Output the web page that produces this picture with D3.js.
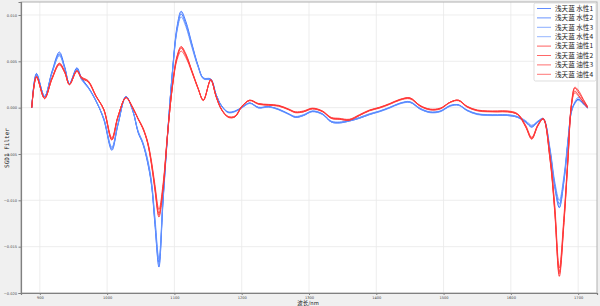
<!DOCTYPE html>
<html>
<head>
<meta charset="utf-8">
<script src="https://cdn.jsdelivr.net/npm/d3@7"></script>
<style>
  body { margin: 0; background: #f0f0f0; }
</style>
</head>
<body>
<div id="chart"></div>
<script>
// wavelength grid (nm), shared by all series
const wavelengths = [
  888, 895, 907, 918, 929, 937, 944, 955, 962, 972,
  983, 995, 1007, 1016, 1028, 1038, 1046, 1053, 1060, 1066,
  1071, 1077, 1083, 1090, 1097, 1104, 1110, 1117, 1126, 1135,
  1143, 1154, 1162, 1170, 1180, 1190, 1200, 1212, 1225, 1240,
  1255, 1270, 1280, 1292, 1305, 1320, 1333, 1345, 1360, 1375,
  1390, 1405, 1420, 1435, 1450, 1465, 1480, 1495, 1510, 1522,
  1535, 1550, 1565, 1580, 1595, 1610, 1622, 1631, 1640, 1648,
  1658, 1665, 1672, 1679, 1685, 1690, 1695, 1700, 1707, 1714
];

// series values, in units of 1e-3
const water1 = [
  0.0, 3.7, 1.2, 3.9, 6.0, 4.4, 2.6, 4.3, 3.2, 2.2,
  0.8, -1.3, -4.6, -1.9, 1.2, -0.3, -2.7, -3.9, -5.9, -8.4,
  -12.6, -17.2, -10.3, -2.8, 3.9, 8.8, 10.4, 9.3, 6.9, 4.6,
  3.2, 3.1, 1.4, 0.2, -0.5, -0.4, 0.0, 0.5, 0.0, 0.1,
  -0.2, -0.7, -1.05, -0.85, -0.4, -0.7, -1.55, -1.65, -1.45, -1.15,
  -0.75, -0.4, 0.0, 0.45, 0.6, -0.15, -0.5, -0.4, 0.2, 0.3,
  -0.3, -0.7, -0.8, -0.85, -0.85, -1.05, -1.55, -2.1, -1.55, -1.25,
  -4.7, -8.5, -10.8, -7.9, -3.6, -0.4, 0.5, 0.9, 0.5, 0.0
];
const water2 = [
  0.0, 3.6, 1.2, 3.8, 5.8, 4.3, 2.6, 4.2, 3.1, 2.2,
  0.8, -1.2, -4.4, -1.8, 1.2, -0.3, -2.6, -3.8, -5.7, -8.2,
  -12.2, -16.7, -10.0, -2.7, 3.8, 8.5, 10.1, 9.0, 6.7, 4.5,
  3.15, 3.0, 1.4, 0.2, -0.5, -0.4, 0.0, 0.5, 0.0, 0.1,
  -0.2, -0.7, -1.0, -0.8, -0.4, -0.7, -1.5, -1.6, -1.4, -1.1,
  -0.7, -0.4, 0.0, 0.45, 0.6, -0.1, -0.5, -0.4, 0.2, 0.3,
  -0.3, -0.7, -0.8, -0.8, -0.8, -1.0, -1.5, -2.0, -1.5, -1.2,
  -4.5, -8.2, -10.4, -7.6, -3.5, -0.4, 0.5, 0.9, 0.5, 0.0
];
const water3 = [
  0.0, 3.5, 1.25, 3.7, 5.6, 4.2, 2.6, 4.1, 3.0, 2.1,
  0.75, -1.15, -4.25, -1.75, 1.15, -0.25, -2.5, -3.7, -5.5, -7.95,
  -11.8, -16.3, -9.7, -2.6, 3.7, 8.3, 9.8, 8.75, 6.5, 4.4,
  3.1, 2.95, 1.35, 0.2, -0.45, -0.35, 0.05, 0.5, 0.05, 0.1,
  -0.15, -0.65, -0.95, -0.75, -0.35, -0.65, -1.45, -1.55, -1.35, -1.05,
  -0.65, -0.35, 0.05, 0.5, 0.65, -0.05, -0.45, -0.35, 0.25, 0.3,
  -0.25, -0.65, -0.75, -0.75, -0.75, -0.95, -1.4, -1.9, -1.45, -1.15,
  -4.3, -7.9, -10.0, -7.3, -3.3, -0.3, 0.6, 1.1, 0.7, 0.1
];
const water4 = [
  0.0, 3.55, 1.15, 3.75, 5.7, 4.25, 2.55, 4.15, 3.05, 2.15,
  0.8, -1.2, -4.5, -1.85, 1.2, -0.3, -2.6, -3.85, -5.8, -8.3,
  -12.4, -17.0, -10.1, -2.7, 3.8, 8.6, 10.3, 9.1, 6.8, 4.5,
  3.2, 3.05, 1.4, 0.15, -0.55, -0.45, -0.05, 0.45, -0.05, 0.05,
  -0.25, -0.75, -1.05, -0.85, -0.45, -0.75, -1.55, -1.65, -1.45, -1.15,
  -0.75, -0.45, -0.05, 0.4, 0.55, -0.15, -0.55, -0.45, 0.15, 0.25,
  -0.35, -0.75, -0.85, -0.85, -0.85, -1.05, -1.6, -2.1, -1.6, -1.25,
  -4.6, -8.4, -10.7, -7.8, -3.6, -0.5, 0.4, 0.8, 0.4, -0.1
];
const oil1 = [
  0.0, 3.4, 1.0, 3.2, 4.8, 3.9, 2.5, 4.0, 3.3, 2.9,
  1.35, -0.2, -3.5, -1.05, 1.1, 0.0, -1.25, -2.25, -3.8, -6.2,
  -8.9, -11.8, -8.9, -2.8, 2.4, 5.6, 6.6, 5.8, 4.0, 2.15,
  0.8, 3.05, 1.2, -0.2, -1.05, -1.0, 0.1, 0.8, 0.4, 0.3,
  0.2, -0.2, -0.5, -0.45, -0.1, -0.4, -1.15, -1.25, -1.35, -0.85,
  -0.3, 0.0, 0.4, 0.85, 1.05, 0.2, -0.2, -0.1, 0.6, 0.8,
  0.1, -0.3, -0.4, -0.45, -0.45, -0.75, -2.1, -3.4, -2.0, -1.25,
  -5.5, -11.1, -18.2, -12.4, -5.5, 0.3, 2.1, 1.7, 0.9, 0.1
];
const oil2 = [
  0.0, 3.3, 1.0, 3.1, 4.7, 3.8, 2.5, 3.95, 3.2, 2.8,
  1.3, -0.2, -3.4, -1.0, 1.1, 0.0, -1.2, -2.2, -3.7, -6.0,
  -8.6, -11.4, -8.6, -2.7, 2.3, 5.4, 6.4, 5.6, 3.9, 2.1,
  0.8, 3.0, 1.2, -0.2, -1.0, -0.95, 0.1, 0.8, 0.4, 0.3,
  0.2, -0.2, -0.5, -0.4, -0.1, -0.4, -1.1, -1.2, -1.3, -0.8,
  -0.3, 0.0, 0.4, 0.85, 1.0, 0.2, -0.2, -0.1, 0.6, 0.8,
  0.1, -0.3, -0.4, -0.4, -0.4, -0.7, -2.0, -3.3, -1.9, -1.2,
  -5.3, -10.7, -17.7, -12.0, -5.3, 0.3, 1.8, 1.4, 0.7, 0.0
];
const oil3 = [
  0.0, 3.25, 1.05, 3.05, 4.6, 3.75, 2.5, 3.9, 3.15, 2.75,
  1.25, -0.15, -3.25, -0.95, 1.05, 0.05, -1.15, -2.1, -3.6, -5.8,
  -8.3, -11.0, -8.3, -2.6, 2.2, 5.2, 6.1, 5.4, 3.8, 2.05,
  0.85, 2.95, 1.2, -0.15, -0.95, -0.9, 0.15, 0.8, 0.45, 0.35,
  0.25, -0.15, -0.45, -0.35, -0.05, -0.35, -1.05, -1.15, -1.25, -0.75,
  -0.25, 0.05, 0.45, 0.9, 1.05, 0.25, -0.15, -0.05, 0.6, 0.8,
  0.15, -0.25, -0.35, -0.35, -0.35, -0.65, -1.9, -3.2, -1.85, -1.15,
  -5.1, -10.3, -17.3, -11.6, -5.0, 0.4, 2.2, 1.9, 1.0, 0.1
];
const oil4 = [
  0.0, 3.35, 0.95, 3.15, 4.75, 3.85, 2.45, 3.95, 3.25, 2.85,
  1.3, -0.25, -3.45, -1.0, 1.1, -0.05, -1.2, -2.2, -3.75, -6.1,
  -8.7, -11.6, -8.7, -2.7, 2.3, 5.5, 6.5, 5.7, 3.9, 2.1,
  0.75, 3.0, 1.15, -0.25, -1.0, -1.0, 0.05, 0.75, 0.35, 0.25,
  0.15, -0.25, -0.55, -0.45, -0.15, -0.45, -1.15, -1.25, -1.35, -0.85,
  -0.35, -0.05, 0.35, 0.8, 0.95, 0.15, -0.25, -0.15, 0.55, 0.75,
  0.05, -0.35, -0.45, -0.45, -0.45, -0.75, -2.05, -3.35, -1.95, -1.2,
  -5.4, -10.9, -17.9, -12.2, -5.4, 0.2, 1.6, 1.3, 0.6, -0.05
];

const seriesNames = [
  "浅天蓝 水性1", "浅天蓝 水性2", "浅天蓝 水性3", "浅天蓝 水性4",
  "浅天蓝 油性1", "浅天蓝 油性2", "浅天蓝 油性3", "浅天蓝 油性4"
];
const seriesValues = [water1, water2, water3, water4, oil1, oil2, oil3, oil4];
const seriesColors = [
  "#1f5cff", "#2a66ff", "#5a8cff", "#6a98ff",
  "#ff1a1a", "#ff2626", "#ff3333", "#ff3d3d"
];

const xTicks = [900, 1000, 1100, 1200, 1300, 1400, 1500, 1600, 1700];
const yTicks = [-0.020, -0.015, -0.010, -0.005, 0.000, 0.005, 0.010];

const width = 600, height = 306;
const plot = { left: 21, top: 2, right: 597, bottom: 293 };

const svg = d3.create("svg")
    .attr("width", width)
    .attr("height", height)
    .style("display", "block")
    .style("background", "#f0f0f0");

const x = d3.scaleLinear().domain([872, 1728]).range([plot.left, plot.right]);
const y = d3.scaleLinear().domain([-0.020, 0.0114]).range([plot.bottom, plot.top]);

// plot background
svg.append("rect")
    .attr("x", plot.left)
    .attr("y", plot.top)
    .attr("width", plot.right - plot.left)
    .attr("height", plot.bottom - plot.top)
    .attr("fill", "#fff");

// grid
const grid = svg.append("g").attr("stroke", "#e8e8e8").attr("stroke-width", 0.8);
grid.selectAll(".gx").data(xTicks).join("line")
    .attr("x1", d => x(d)).attr("x2", d => x(d))
    .attr("y1", plot.top).attr("y2", plot.bottom);
grid.selectAll(".gy").data(yTicks).join("line")
    .attr("x1", plot.left).attr("x2", plot.right)
    .attr("y1", d => y(d)).attr("y2", d => y(d));

// lines
const line = d3.line()
    .x((d, i) => x(wavelengths[i]))
    .y(d => y(d / 1000))
    .curve(d3.curveCatmullRom.alpha(0.5));

const lines = svg.append("g").attr("fill", "none");
seriesValues.forEach((vals, k) => {
    lines.append("path")
        .attr("d", line(vals))
        .attr("stroke", seriesColors[k])
        .attr("stroke-width", 1)
        .attr("stroke-opacity", 0.85);
});

// frame
svg.append("rect")
    .attr("x", plot.left)
    .attr("y", plot.top)
    .attr("width", plot.right - plot.left)
    .attr("height", plot.bottom - plot.top)
    .attr("fill", "none")
    .attr("stroke", "#b0b0b0")
    .attr("stroke-width", 1);

// axes
const fmtY = d => d3.format(".3f")(d).replace("-", "\u2212");
const xAxis = svg.append("g")
    .attr("transform", `translate(0,${plot.bottom})`)
    .call(d3.axisBottom(x).tickValues(xTicks).tickSize(2).tickPadding(1).tickFormat(d3.format("d")));
const yAxis = svg.append("g")
    .attr("transform", `translate(${plot.left},0)`)
    .call(d3.axisLeft(y).tickValues(yTicks).tickSize(2.5).tickPadding(1.5).tickFormat(fmtY));

[xAxis, yAxis].forEach(a => {
    a.select(".domain").attr("stroke", "#808080").attr("stroke-width", 1.2);
    a.selectAll(".tick line").attr("stroke", "#808080");
    a.selectAll(".tick text")
        .attr("fill", "#444")
        .style("font-family", "DejaVu Sans")
        .style("font-size", "3.6px");
});

// axis labels
svg.append("text")
    .attr("x", 308)
    .attr("y", 305)
    .attr("text-anchor", "middle")
    .style("font-family", "Noto Sans CJK SC")
    .style("font-size", "5.5px")
    .attr("fill", "#222")
    .text("波长/nm");

svg.append("text")
    .attr("transform", "rotate(-90)")
    .attr("x", -148)
    .attr("y", 9)
    .attr("text-anchor", "middle")
    .style("font-family", "DejaVu Sans Mono")
    .style("font-size", "6px")
    .attr("fill", "#222")
    .text("SGD1 Filter");

// legend
const legend = svg.append("g");
legend.append("rect")
    .attr("x", 534)
    .attr("y", 3)
    .attr("width", 62)
    .attr("height", 78)
    .attr("rx", 1.5)
    .attr("fill", "#fff")
    .attr("fill-opacity", 0.85)
    .attr("stroke", "#d0d0d0")
    .attr("stroke-width", 0.7);

seriesNames.forEach((name, k) => {
    const ly = 8.5 + k * 9.4;
    legend.append("line")
        .attr("x1", 537).attr("x2", 551)
        .attr("y1", ly).attr("y2", ly)
        .attr("stroke", seriesColors[k])
        .attr("stroke-opacity", 0.7)
        .attr("stroke-width", 1);
    legend.append("text")
        .attr("x", 555)
        .attr("y", ly)
        .attr("dy", "0.35em")
        .style("font-family", "Noto Sans CJK SC")
        .style("font-size", "6.6px")
        .attr("fill", "#222")
        .text(name);
});

document.getElementById("chart").appendChild(svg.node());
</script>
</body>
</html>
